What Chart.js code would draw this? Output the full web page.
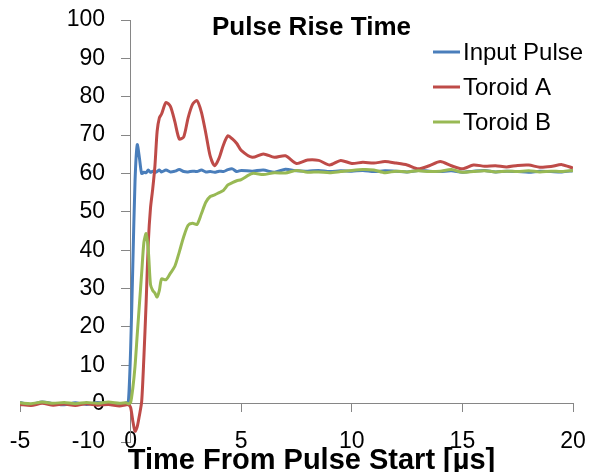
<!DOCTYPE html>
<html>
<head>
<meta charset="utf-8">
<script src="https://cdn.jsdelivr.net/npm/chart.js@4"></script>
<style>
  html, body { margin: 0; padding: 0; background: #fff; }
  #wrap { width: 589px; height: 472px; }
</style>
</head>
<body>
<div id="wrap"><canvas id="riseChart"></canvas></div>
<script>
// time axis in microseconds
const times = [
  -5, -4.5, -4, -3.5, -3, -2.5, -2, -1.5, -1, -0.5, -0.2,
  -0.1, 0, 0.1, 0.2, 0.3, 0.4, 0.5, 0.6, 0.7, 0.8, 0.9, 1.0, 1.1, 1.2, 1.3, 1.4,
  1.6, 1.8, 2.0, 2.2, 2.4, 2.6, 2.8, 3.0, 3.2, 3.4, 3.6, 3.8, 4.0, 4.2, 4.4, 4.6, 4.8, 5.0,
  5.5, 6, 6.5, 7, 7.5, 8, 8.5, 9, 9.5, 10, 10.5, 11, 11.5, 12, 12.5, 13, 13.5, 14, 14.5, 15,
  15.5, 16, 16.5, 17, 17.5, 18, 18.5, 19, 19.5, 20
];
const inputPulse = [
  0.3, -0.2, 0.4, 0, -0.3, 0.2, -0.2, 0.3, 0, -0.2, 0.2,
  0.5, 14, 36, 58, 67.5, 64, 60, 60.3, 60.2, 60.9, 60.3, 60.6, 60.2, 60.5, 60.9, 60.4,
  60.9, 60.4, 60.6, 61.0, 60.5, 60.4, 60.6, 60.5, 60.9, 60.4, 60.5, 60.3, 60.6, 60.5, 61.0, 61.2, 60.5, 60.8,
  60.6, 60.9, 60.3, 61.1, 60.7, 60.6, 60.8, 60.5, 60.7, 60.6, 60.8, 60.5, 60.7, 60.6, 60.4, 60.8, 60.6, 60.5, 60.7, 60.3,
  60.6, 60.8, 60.4, 60.6, 60.5, 60.3, 60.6, 60.5, 60.4, 60.7
];
const toroidA = [
  -0.2, -0.5, 0.1, -0.4, -0.1, -0.5, 0, -0.4, -0.2, -0.6, -0.3,
  -0.3, -1, -4.5, -7.2, -6, -3, 0.5, 12, 26, 42, 51, 56, 62, 71, 74.5, 75.5,
  78.5, 77.5, 73.5, 69, 69.5, 74.5, 78, 79, 76, 70.5, 64.5, 62, 64, 67.5, 69.8, 69, 67.8, 66,
  64.2, 65.1, 64.2, 64.6, 62.6, 63.5, 63.4, 62.2, 63.4, 62.6, 62.9, 62.7, 63.1, 62.7, 62.2, 61.2, 62, 63.1, 62, 61.2,
  62.2, 61.9, 62, 61.7, 62.1, 62.2, 61.6, 61.8, 62.3, 61.4
];
const toroidB = [
  0.2, 0, 0.4, 0.1, 0.3, 0, 0.3, 0.1, 0.4, 0.1, 0.2,
  0, 0.3, 4, 9.7, 18, 26, 34, 42, 44.3, 40, 31, 29.5, 28.8, 27.8, 29.5, 32.5,
  32.3, 34, 35.8, 39.5, 43.5, 46.5, 47, 46.7, 49.5, 52.5, 54, 54.4, 55, 55.6, 57, 57.6, 58.1, 58.4,
  60, 59.7, 60.2, 60.1, 60.8, 60.3, 60.4, 60.2, 60.5, 60.8, 61, 60.9, 60.2, 60.6, 60.4, 60.7, 60.5, 60.6, 61, 60.3,
  60.5, 60.7, 60.4, 60.6, 60.5, 60.7, 60.4, 60.6, 60.5, 60.8
];
const xTicks = [-5, 0, 5, 10, 15, 20];
const yTicks = [-10, 0, 10, 20, 30, 40, 50, 60, 70, 80, 90, 100];

const FONT = '"Liberation Sans", Arial, sans-serif';
const AXIS_GRAY = '#868686';

function toPoints(values) {
  return times.map((t, i) => ({ x: t, y: values[i] }));
}

// title, legend and axis title sit inside the plot like the Excel original
const overlayText = {
  id: 'overlayText',
  afterDraw(chart) {
    const ctx = chart.ctx;
    const area = chart.chartArea;
    const cx = (area.left + area.right) / 2 + 15;
    ctx.save();
    ctx.fillStyle = '#000';
    ctx.textAlign = 'center';
    ctx.textBaseline = 'alphabetic';
    ctx.font = 'bold 26px ' + FONT;
    ctx.fillText('Pulse Rise Time', cx, area.top + 15);
    ctx.font = 'bold 29px ' + FONT;
    ctx.fillText('Time From Pulse Start [\u00b5s]', cx, chart.height - 3);

    // legend
    ctx.textAlign = 'left';
    ctx.textBaseline = 'middle';
    ctx.font = '24px ' + FONT;
    const lx = area.right - 140;
    chart.data.datasets.forEach((ds, i) => {
      const ly = area.top + 32 + i * 35;
      ctx.strokeStyle = ds.borderColor;
      ctx.lineWidth = 3;
      ctx.beginPath();
      ctx.moveTo(lx, ly);
      ctx.lineTo(lx + 27, ly);
      ctx.stroke();
      ctx.fillText(ds.label, lx + 30, ly + 1);
    });
    ctx.restore();
  }
};

const ctxRise = document.getElementById('riseChart');
new Chart(ctxRise, {
  type: 'line',
  data: {
    datasets: [{
      label: 'Input Pulse',
      data: toPoints(inputPulse),
      borderColor: '#4A7EBB',
      order: 2,
    }, {
      label: 'Toroid A',
      data: toPoints(toroidA),
      borderColor: '#BE4B48',
      order: 1,
    }, {
      label: 'Toroid B',
      data: toPoints(toroidB),
      borderColor: '#98B954',
      order: 0,
    }],
  },
  options: {
    responsive: true,
    maintainAspectRatio: false,
    animation: false,
    layout: {
      padding: { top: 20, left: 20, right: 16, bottom: 30 },
    },
    elements: {
      point: { radius: 0 },
      line: { borderWidth: 3, tension: 0.25, fill: false },
    },
    plugins: {
      legend: { display: false },
      title: { display: false },
      tooltip: { enabled: false },
    },
    scales: {
      // labels only, hung on the -10 line ("low" label position)
      x: {
        type: 'linear',
        position: { y: -10 },
        min: -5,
        max: 20,
        afterBuildTicks: (scale) => { scale.ticks = xTicks.map(v => ({ value: v })); },
        grid: { display: false, drawTicks: false },
        border: { display: false },
        ticks: {
          padding: -14,
          color: '#000',
          font: { family: FONT, size: 23 },
          maxRotation: 0,
        },
      },
      // axis line with tick marks crossing at y = 0
      x2: {
        type: 'linear',
        position: { y: 0 },
        min: -5,
        max: 20,
        afterBuildTicks: (scale) => { scale.ticks = xTicks.map(v => ({ value: v })); },
        grid: { drawOnChartArea: false, drawTicks: true, tickLength: 8, color: AXIS_GRAY },
        border: { display: true, color: AXIS_GRAY, width: 1 },
        ticks: { display: false },
      },
      y: {
        type: 'linear',
        position: { x: 0 },
        min: -10,
        max: 100,
        afterBuildTicks: (scale) => { scale.ticks = yTicks.map(v => ({ value: v })); },
        grid: { drawOnChartArea: false, drawTicks: true, tickLength: 9, color: AXIS_GRAY },
        border: { display: true, color: AXIS_GRAY, width: 1 },
        ticks: {
          color: '#000',
          font: { family: FONT, size: 23 },
          // labels of an axis placed by value sit flush on the line, so pad them
          callback: (value) => value + '    ',
        },
      },
    },
  },
  plugins: [overlayText],
});
</script>
</body>
</html>
